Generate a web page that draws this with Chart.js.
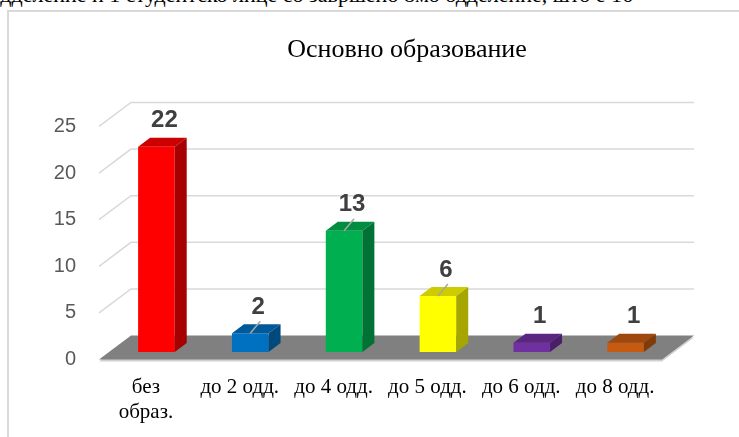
<!DOCTYPE html>
<html>
<head>
<meta charset="utf-8">
<script src="https://cdn.jsdelivr.net/npm/chart.js@4"></script>
<style>
body { margin: 0; width: 739px; height: 437px; overflow: hidden; background: #fff; position: relative; }
#cut { position: absolute; top: -16px; left: -10px; font: 22px/22px 'Liberation Serif', serif; white-space: nowrap; color: #000; }
#frame { position: absolute; left: 7px; top: 10px; width: 796px; height: 440px; border-left: 2px solid #d9d9d9; border-top: 2px solid #d9d9d9; }
#chart { position: absolute; left: 2px; top: 0; }
</style>
</head>
<body>
<div id="cut">одделение и 1 студентско лице со завршено 8мо одделение, што е 16</div>
<div id="frame"><canvas id="chart" width="792" height="425"></canvas></div>
<script>
const title = 'Основно образование';
const categories = [['без', 'образ.'], 'до 2 одд.', 'до 4 одд.', 'до 5 одд.', 'до 6 одд.', 'до 8 одд.'];
const counts = [22, 2, 13, 6, 1, 1];
const yMax = 25;
const yStep = 5;

const barColors = ['#ff0000', '#0070c0', '#00b050', '#ffff00', '#7030a0', '#c55a11'];
const withLeader = [false, true, true, true, false, false];

// 3d look
const WALL_DX = 32, WALL_DY = -24;   // back wall offset
const BAR_DX = 10.5, BAR_DY = -7.6;  // bars sit a bit back on the floor
const DEPTH_DX = 12, DEPTH_DY = -9;  // bar depth

function shade(hex, f) {
  const n = parseInt(hex.slice(1), 16);
  const r = Math.round(((n >> 16) & 255) * f);
  const g = Math.round(((n >> 8) & 255) * f);
  const b = Math.round((n & 255) * f);
  return `rgb(${r},${g},${b})`;
}

function poly(ctx, pts, fill) {
  ctx.beginPath();
  ctx.moveTo(pts[0][0], pts[0][1]);
  for (let i = 1; i < pts.length; i++) ctx.lineTo(pts[i][0], pts[i][1]);
  ctx.closePath();
  ctx.fillStyle = fill;
  ctx.fill();
}

const box3d = {
  id: 'box3d',
  beforeDatasetsDraw(chart) {
    const { ctx, chartArea: a, scales: { y } } = chart;
    ctx.save();
    // walls grid
    ctx.strokeStyle = '#d9d9d9';
    ctx.lineWidth = 1.5;
    y.ticks.forEach(t => {
      if (t.value === 0) return;
      const py = y.getPixelForValue(t.value);
      ctx.beginPath();
      ctx.moveTo(a.left, py);
      ctx.lineTo(a.left + WALL_DX, py + WALL_DY);
      ctx.lineTo(a.right + WALL_DX, py + WALL_DY);
      ctx.stroke();
    });
    // floor
    const y0 = y.getPixelForValue(0);
    poly(ctx, [[a.left, y0 + 2], [a.right, y0 + 2], [a.right + WALL_DX, y0 + WALL_DY + 2], [a.left + WALL_DX, y0 + WALL_DY + 2]], '#d0d0d0');
    poly(ctx, [[a.left, y0], [a.right, y0], [a.right + WALL_DX, y0 + WALL_DY], [a.left + WALL_DX, y0 + WALL_DY]], '#808080');
    ctx.restore();
    ctx.save();
    ctx.translate(BAR_DX, BAR_DY);
  },
  afterDatasetsDraw(chart) {
    const { ctx } = chart;
    const meta = chart.getDatasetMeta(0);
    meta.data.forEach((bar, i) => {
      const { x, y, base, width } = bar.getProps(['x', 'y', 'base', 'width'], true);
      const l = x - width / 2, r = x + width / 2;
      poly(ctx, [[l, y], [r, y], [r + DEPTH_DX, y + DEPTH_DY], [l + DEPTH_DX, y + DEPTH_DY]], shade(barColors[i], 0.8));
      poly(ctx, [[r, y], [r + DEPTH_DX, y + DEPTH_DY], [r + DEPTH_DX, base + DEPTH_DY], [r, base]], shade(barColors[i], 0.65));
    });
    ctx.restore();

    // value labels
    ctx.save();
    ctx.font = 'bold 24px "Liberation Sans", Arial, sans-serif';
    ctx.fillStyle = '#404040';
    ctx.textAlign = 'center';
    ctx.textBaseline = 'middle';
    meta.data.forEach((bar, i) => {
      const { x, y } = bar.getProps(['x', 'y'], true);
      const cx = x + BAR_DX, top = y + BAR_DY;
      const lx = cx + 8, ly = top + DEPTH_DY - 18;
      if (withLeader[i]) {
        ctx.strokeStyle = '#a6a6a6';
        ctx.lineWidth = 1.5;
        ctx.beginPath();
        ctx.moveTo(cx, top);
        ctx.lineTo(lx + 2, ly + 15);
        ctx.stroke();
      }
      ctx.fillText(String(counts[i]), lx, ly + 1);
    });
    ctx.restore();
  }
};

new Chart(document.getElementById('chart'), {
  type: 'bar',
  data: {
    labels: categories,
    datasets: [{
      data: counts,
      backgroundColor: barColors,
      borderWidth: 0,
      categoryPercentage: 1,
      barPercentage: 0.39
    }]
  },
  options: {
    responsive: false,
    devicePixelRatio: 1,
    animation: false,
    events: [],
    layout: { padding: 0 },
    plugins: {
      legend: { display: false },
      tooltip: { enabled: false },
      title: {
        display: true,
        text: title,
        color: '#000',
        font: { family: '"Liberation Serif", "Times New Roman", serif', size: 26, weight: 'normal', lineHeight: 1.2 },
        padding: { top: 22.6, bottom: 60.6 }
      }
    },
    scales: {
      x: {
        grid: { display: false, drawTicks: false },
        border: { display: false },
        ticks: {
          color: '#000',
          padding: 14.8,
          maxRotation: 0,
          autoSkip: false,
          font: { family: '"Liberation Serif", "Times New Roman", serif', size: 21, lineHeight: 1.2 }
        },
        afterFit(s) { s.height = 77.4; }
      },
      y: {
        min: 0,
        max: yMax,
        grid: { display: false, drawTicks: false },
        border: { display: false },
        ticks: {
          stepSize: yStep,
          color: '#595959',
          padding: 23,
          font: { family: '"Liberation Sans", Arial, sans-serif', size: 20 }
        },
        afterFit(s) { s.width = 88; }
      },
      // empty room on the right, keeps the title centred on the whole frame
      yRight: {
        position: 'right',
        display: true,
        min: 0,
        max: yMax,
        grid: { display: false, drawTicks: false },
        border: { display: false },
        ticks: { display: false },
        afterFit(s) { s.width = 141; }
      }
    }
  },
  plugins: [box3d]
});
</script>
</body>
</html>
